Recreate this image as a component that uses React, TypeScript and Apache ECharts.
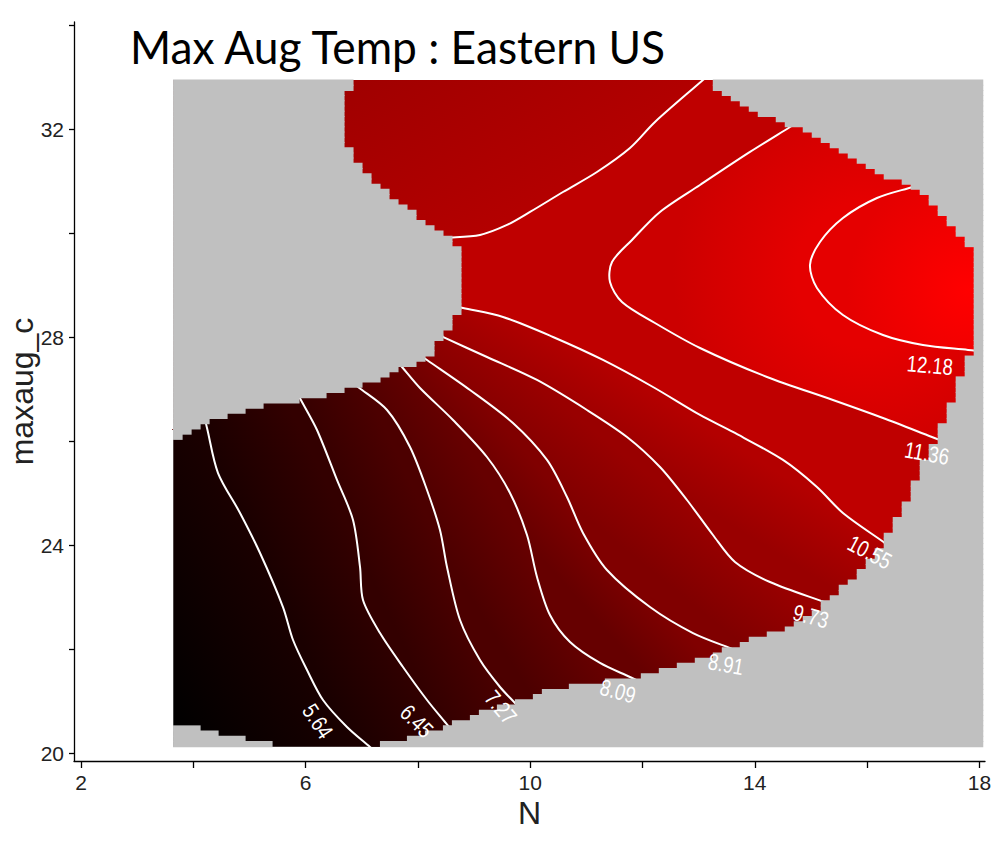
import React, { useEffect, useRef } from "react";
import * as echarts from "echarts";

type Pt = [number, number];

// ---------- texts ----------
const TITLE = "Max Aug Temp : Eastern US";
const X_NAME = "N";
const Y_NAME = "maxaug_c";

// ---------- axes ----------
const X_RANGE: Pt = [1.875, 18.1];
const Y_RANGE: Pt = [19.852, 34.063];
const X_TICK_LABELS = [2, 6, 10, 14, 18];
const X_TICKS = [2, 4, 6, 8, 10, 12, 14, 16, 18];
const Y_TICK_LABELS = [20, 24, 28, 32];
const Y_TICKS = [20, 22, 24, 26, 28, 30, 32, 34];

// ---------- prediction grid (grey) extent: xMin, xMax, yMin, yMax ----------
const GRID_EXTENT = [3.644, 18.064, 20.127, 32.948];

// ---------- colour ramp (black -> red) ----------
const VALUE_MIN = 4.82;
const VALUE_MAX = 13.0;
const MAX_POINT: Pt = [17.797, 28.91];
const LOBE_FAR_VALUE = 9.95;
const NECK_BAND_VALUE = 10.96;

// ---------- contour levels ----------
const LEVELS = [5.64, 6.45, 7.27, 8.09, 8.91, 9.73, 10.55, 11.36, 12.18];

// ---------- boundary of the coloured (predicted) region ----------
const EDGE_OUTER: Pt[] = [
  [3.62, 20.602], [3.977, 20.506], [4.315, 20.41], [4.832, 20.294], [5.633, 20.14],
  [7.182, 20.14], [7.859, 20.294], [8.5, 20.487], [9.124, 20.794], [9.765, 20.967],
  [10.174, 21.16], [10.655, 21.256], [11.243, 21.371], [11.831, 21.448], [12.49, 21.64],
  [13.024, 21.794], [13.968, 22.179], [14.68, 22.467], [15.286, 22.91], [15.873, 23.467],
  [16.354, 24.16], [16.586, 24.621], [16.817, 25.064], [16.995, 25.583], [17.298, 26.217],
  [17.476, 26.66], [17.654, 27.179], [17.832, 27.698], [17.975, 28.371], [17.975, 29.64],
  [17.779, 29.833], [17.476, 30.218], [17.173, 30.602], [16.817, 30.929], [16.283, 31.121],
  [15.82, 31.371], [15.214, 31.756], [14.627, 32.083], [13.611, 32.525], [13.077, 33.0],
];
const EDGE_LOBE: Pt[] = [
  [6.826, 33.0], [6.666, 32.41], [6.666, 31.987], [6.826, 31.506], [7.022, 31.179],
  [7.325, 30.871], [7.681, 30.602], [8.037, 30.294], [8.447, 29.968], [8.803, 29.679],
];
const EDGE_LOWER_TOP: Pt[] = [
  [8.803, 28.564], [8.625, 28.333], [8.482, 28.083], [8.304, 27.794], [8.162, 27.602],
  [8.037, 27.525], [7.556, 27.333], [6.969, 27.044], [5.9, 26.794], [5.491, 26.737],
  [4.956, 26.602], [4.297, 26.371], [3.817, 26.083], [3.62, 25.987],
];

// ---------- contour lines ----------
const LINE_564: Pt[] = [
  [4.244, 26.256], [4.44, 25.39], [4.832, 24.621], [5.188, 23.852], [5.597, 22.813],
  [5.776, 22.179], [6.025, 21.602], [6.31, 21.025], [6.737, 20.506], [7.147, 20.121],
];
const LINE_645: Pt[] = [
  [5.936, 26.756], [6.203, 26.217], [6.559, 25.256], [6.844, 24.487], [6.969, 23.583],
  [7.022, 22.948], [7.325, 22.313], [7.734, 21.66], [8.162, 21.025], [8.482, 20.602],
];
const LINE_727: Pt[] = [
  [6.933, 27.044], [7.45, 26.602], [7.859, 25.89], [8.162, 25.064], [8.393, 24.294],
  [8.518, 23.583], [8.75, 22.564], [9.106, 21.794], [9.462, 21.275], [9.729, 20.967],
];
const LINE_809: Pt[] = [
  [7.717, 27.429], [8.037, 27.025], [8.625, 26.41], [9.23, 25.698], [9.64, 25.006],
  [9.943, 24.198], [10.121, 23.391], [10.352, 22.66], [10.709, 22.141], [11.243, 21.737],
  [11.777, 21.467],
];
const LINE_891: Pt[] = [
  [8.162, 27.564], [8.928, 26.987], [9.693, 26.352], [10.299, 25.641], [10.655, 24.929],
  [10.94, 24.237], [11.367, 23.525], [12.133, 22.813], [12.899, 22.313], [13.647, 21.987],
];
const LINE_973: Pt[] = [
  [8.482, 27.987], [9.23, 27.621], [10.121, 27.179], [11.011, 26.602], [11.724, 26.083],
  [12.311, 25.506], [12.792, 24.871], [13.255, 24.198], [13.647, 23.679], [14.27, 23.294],
  [15.286, 22.89],
];
const LINE_1055: Pt[] = [
  [8.803, 28.564], [9.515, 28.391], [10.406, 28.006], [11.296, 27.564], [12.187, 27.044],
  [13.024, 26.506], [13.611, 26.179], [14.502, 25.641], [15.107, 25.121], [15.57, 24.621],
  [16.318, 24.044],
];
const LINE_1055_UPPER: Pt[] = [
  [8.482, 29.91], [9.106, 29.968], [9.587, 30.16], [9.996, 30.41], [10.584, 30.794],
  [11.189, 31.179], [11.777, 31.641], [12.222, 32.141], [13.077, 32.948],
];
const LINE_1136: Pt[] = [
  [14.627, 32.044], [13.914, 31.564], [13.024, 30.929], [12.311, 30.41], [11.813, 29.871],
  [11.457, 29.448], [11.421, 29.064], [11.635, 28.679], [12.222, 28.275], [13.024, 27.794],
  [14.217, 27.237], [15.392, 26.794], [16.283, 26.448], [17.155, 26.083],
];
const LINE_1218: Pt[] = [
  [16.817, 30.891], [16.176, 30.679], [15.57, 30.294], [15.161, 29.833], [14.983, 29.391],
  [15.107, 28.948], [15.57, 28.429], [16.283, 28.044], [16.995, 27.852], [17.797, 27.756],
];

// ---------- contour labels ----------
const LABEL_POS: Pt[] = [
  [6.221, 20.621], [7.984, 20.621], [9.48, 20.89], [11.563, 21.198], [13.487, 21.717],
  [15.001, 22.64], [16.051, 23.871], [17.066, 25.775], [17.12, 27.467],
];
const LABEL_ANGLE = [57, 45, 50, 15, 10, 15, 28, 10, 5];

// ---------- styling ----------
const GREY = "#c0c0c0";
const SANS = "'Liberation Sans', Arial, sans-serif";
const TITLE_SIZE = 46;
const TITLE_WIDTH = 538;
const CELL_COLS = 90;
const CELL_ROWS = 128;

const colorOf = (v: number) => {
  const t = Math.max(0, Math.min(1, (v - VALUE_MIN) / (VALUE_MAX - VALUE_MIN)));
  return `rgb(${Math.round(t * 255)},0,0)`;
};
const sub = (a: Pt, b: Pt): Pt => [a[0] - b[0], a[1] - b[1]];
const unit = (v: Pt): Pt => {
  const l = Math.hypot(v[0], v[1]) || 1;
  return [v[0] / l, v[1] / l];
};
const dot = (a: Pt, b: Pt) => a[0] * b[0] + a[1] * b[1];
const extendEnds = (pts: Pt[], len: number): Pt[] => {
  const n = pts.length;
  const d0 = unit(sub(pts[0], pts[1]));
  const d1 = unit(sub(pts[n - 1], pts[n - 2]));
  return [
    [pts[0][0] + d0[0] * len, pts[0][1] + d0[1] * len],
    ...pts,
    [pts[n - 1][0] + d1[0] * len, pts[n - 1][1] + d1[1] * len],
  ];
};
const normalOf = (pts: Pt[]): Pt => {
  const d = sub(pts[pts.length - 1], pts[0]);
  return unit([d[1], -d[0]]);
};
const meanProj = (pts: Pt[], n: Pt) => pts.reduce((s, p) => s + dot(p, n), 0) / pts.length;
const centroid = (pts: Pt[]): Pt => [
  pts.reduce((s, p) => s + p[0], 0) / pts.length,
  pts.reduce((s, p) => s + p[1], 0) / pts.length,
];
const meanDist = (pts: Pt[], c: Pt) => pts.reduce((s, p) => s + Math.hypot(p[0] - c[0], p[1] - c[1]), 0) / pts.length;
const linear = (n: Pt, a: number, b: number, c1: string, c2: string) => ({
  type: "linear", x: n[0] * a, y: n[1] * a, x2: n[0] * b, y2: n[1] * b, global: true,
  colorStops: [{ offset: 0, color: c1 }, { offset: 1, color: c2 }],
});

const renderItem = (_params: any, api: any) => {
  const px = (p: Pt): Pt => api.coord(p) as Pt;
  const [gx0, gx1, gy0, gy1] = GRID_EXTENT;
  const gTL = px([gx0, gy1]);
  const gBR = px([gx1, gy0]);
  const gTR: Pt = [gBR[0], gTL[1]];
  const clampPt = (p: Pt): Pt => [
    Math.min(gBR[0], Math.max(gTL[0], p[0])),
    Math.min(gBR[1], Math.max(gTL[1], p[1])),
  ];
  const children: any[] = [];

  children.push({
    type: "rect",
    shape: { x: gTL[0], y: gTL[1], width: gBR[0] - gTL[0], height: gBR[1] - gTL[1] },
    style: { fill: GREY },
  });

  const lower = [LINE_564, LINE_645, LINE_727, LINE_809, LINE_891, LINE_973, LINE_1055].map((l) => l.map(px));
  const lowerTop = EDGE_LOWER_TOP.map(px);
  const bottomLeft = px(EDGE_OUTER[0]);

  // below the first level
  {
    const n = normalOf(lower[0]);
    children.push({
      type: "rect",
      shape: { x: gTL[0], y: gTL[1], width: gBR[0] - gTL[0], height: gBR[1] - gTL[1] },
      style: { fill: linear(n, dot(bottomLeft, n), meanProj(lower[0], n), colorOf(VALUE_MIN), colorOf(LEVELS[0])) },
    });
  }
  // super-level regions of the lower contours
  for (let i = 0; i < 6; i++) {
    const line = extendEnds(lower[i], 8).map(clampPt);
    const start = line[0];
    const end = line[line.length - 1];
    const raised: Pt[] = lowerTop
      .filter((p) => p[0] < start[0] - 1)
      .reverse()
      .map((p) => [p[0], p[1] - 12] as Pt);
    const firstRaised = raised.length ? raised[0][1] : start[1] - 12;
    const pts: Pt[] = [...line, [end[0], gBR[1]], gBR, gTR, gTL, [gTL[0], firstRaised], ...raised];
    const n = unit([
      normalOf(lower[i])[0] + normalOf(lower[i + 1])[0],
      normalOf(lower[i])[1] + normalOf(lower[i + 1])[1],
    ]);
    children.push({
      type: "polygon",
      shape: { points: pts },
      style: { fill: linear(n, meanProj(lower[i], n), meanProj(lower[i + 1], n), colorOf(LEVELS[i]), colorOf(LEVELS[i + 1])) },
    });
  }

  const upperA = LINE_1055_UPPER.map(px);
  const lineB = LINE_1136.map(px);
  const lineC = LINE_1218.map(px);
  const lineD = lower[6];

  // top-left lobe (below 10.55)
  {
    const a = extendEnds(upperA, 8).map(clampPt);
    const n = normalOf(upperA);
    const lobe = EDGE_LOBE.map(px);
    const far = Math.max(...lobe.map((p) => dot(p, n)));
    const leftLow: Pt = [gTL[0], lowerTop[lowerTop.length - 1][1] - 60];
    children.push({
      type: "polygon",
      shape: { points: [...a, gTL, leftLow] },
      style: { fill: linear(n, meanProj(upperA, n), far, colorOf(LEVELS[6]), colorOf(LOBE_FAR_VALUE)) },
    });
  }
  // neck band 10.55 .. 11.36
  {
    const d = extendEnds(lineD, 8).map(clampPt);
    const a = upperA.slice().reverse();
    children.push({
      type: "polygon",
      shape: { points: [...d, gBR, gTR, ...a] },
      style: { fill: colorOf(NECK_BAND_VALUE) },
    });
  }
  // band 11.36 .. 12.18
  {
    const b = extendEnds(lineB, 8).map(clampPt);
    const c = centroid(lineC);
    const rC = meanDist(lineC, c);
    const rB = meanDist(lineB, c);
    children.push({
      type: "polygon",
      shape: { points: [...b, gBR, gTR, [b[0][0], gTR[1]]] },
      style: {
        fill: {
          type: "radial", x: c[0], y: c[1], r: rB, global: true,
          colorStops: [
            { offset: 0, color: colorOf(LEVELS[8]) },
            { offset: Math.min(0.95, rC / rB), color: colorOf(LEVELS[8]) },
            { offset: 1, color: colorOf(LEVELS[7]) },
          ],
        },
      },
    });
  }
  // core above 12.18
  {
    const cc = extendEnds(lineC, 8).map(clampPt);
    const m = px(MAX_POINT);
    const r = meanDist(lineC, m);
    children.push({
      type: "polygon",
      shape: { points: [...cc, gBR, gTR, [cc[0][0], gTR[1]]] },
      style: {
        fill: {
          type: "radial", x: m[0], y: m[1], r, global: true,
          colorStops: [
            { offset: 0, color: colorOf(VALUE_MAX) },
            { offset: 1, color: colorOf(LEVELS[8]) },
          ],
        },
      },
    });
  }

  // white contour lines
  [...lower, upperA, lineB, lineC].forEach((l) => {
    children.push({
      type: "polyline",
      shape: { points: extendEnds(l, 8), smooth: 0.3 },
      style: { stroke: "#ffffff", lineWidth: 2, fill: null },
    });
  });

  // grey mask outside the predicted cells (raster staircase)
  const poly: Pt[] = [...EDGE_OUTER, ...EDGE_LOBE, ...EDGE_LOWER_TOP];
  const dx = (gx1 - gx0) / CELL_COLS;
  const dy = (gy1 - gy0) / CELL_ROWS;
  for (let j = 0; j < CELL_ROWS; j++) {
    const yc = gy0 + (j + 0.5) * dy;
    const xs: number[] = [];
    for (let i = 0; i < poly.length; i++) {
      const p = poly[i];
      const q = poly[(i + 1) % poly.length];
      if ((p[1] <= yc) !== (q[1] <= yc)) {
        xs.push(p[0] + ((yc - p[1]) * (q[0] - p[0])) / (q[1] - p[1]));
      }
    }
    xs.sort((a, b) => a - b);
    const snapped = xs.map((x) => gx0 + Math.min(CELL_COLS, Math.max(0, Math.round((x - gx0) / dx))) * dx);
    const spans: Pt[] = [];
    let s = gx0;
    for (let k = 0; k + 1 < snapped.length; k += 2) {
      if (snapped[k] > s + 1e-9) spans.push([s, snapped[k]]);
      s = snapped[k + 1];
    }
    if (s < gx1 - 1e-9) spans.push([s, gx1]);
    const top = px([gx0, gy0 + (j + 1) * dy])[1];
    const bot = px([gx0, gy0 + j * dy])[1];
    spans.forEach(([xa, xb]) => {
      const ax = px([xa, yc])[0];
      const bx = px([xb, yc])[0];
      children.push({
        type: "rect",
        shape: { x: ax - 0.3, y: top - 0.5, width: bx - ax + 0.6, height: bot - top + 1 },
        style: { fill: GREY },
      });
    });
  }

  // contour labels
  LEVELS.forEach((lv, i) => {
    const p = px(LABEL_POS[i]);
    children.push({
      type: "text",
      x: p[0],
      y: p[1],
      rotation: (-LABEL_ANGLE[i] * Math.PI) / 180,
      scaleX: 0.8,
      style: {
        text: lv.toFixed(2),
        fill: "#ffffff",
        fontSize: 23,
        fontFamily: SANS,
        align: "center",
        verticalAlign: "middle",
      },
    });
  });

  return { type: "group", children };
};

export default function App() {
  const ref = useRef<HTMLDivElement>(null);
  useEffect(() => {
    if (!ref.current) return;
    const chart = echarts.init(ref.current, undefined, { renderer: "svg" });
    let titleScale = 1;
    try {
      const ctx = document.createElement("canvas").getContext("2d");
      if (ctx) {
        ctx.font = `${TITLE_SIZE}px Lato`;
        const w = ctx.measureText(TITLE).width;
        if (w > 0) titleScale = TITLE_WIDTH / w;
      }
    } catch (e) {
      titleScale = 1;
    }
    chart.setOption({
      animation: false,
      backgroundColor: "#ffffff",
      grid: { left: 74, right: 9, top: 22, bottom: 84, containLabel: false, outerBoundsMode: "none" },
      xAxis: {
        type: "value",
        min: X_RANGE[0],
        max: X_RANGE[1],
        name: X_NAME,
        nameLocation: "middle",
        nameGap: 36,
        nameMoveOverlap: false,
        nameTextStyle: { fontSize: 32, fontFamily: SANS, color: "#222" },
        axisLine: { show: true, onZero: false, lineStyle: { color: "#000", width: 1.3 } },
        axisTick: { show: true, customValues: X_TICKS, length: 7, lineStyle: { color: "#000", width: 1.3 } },
        axisLabel: { customValues: X_TICK_LABELS, fontSize: 21, fontFamily: SANS, color: "#222", margin: 11 },
        splitLine: { show: false },
      },
      yAxis: {
        type: "value",
        min: Y_RANGE[0],
        max: Y_RANGE[1],
        name: Y_NAME,
        nameLocation: "middle",
        nameGap: 36,
        nameMoveOverlap: false,
        nameTextStyle: { fontSize: 32, fontFamily: SANS, color: "#222" },
        axisLine: { show: true, onZero: false, lineStyle: { color: "#000", width: 1.3 } },
        axisTick: { show: true, customValues: Y_TICKS, length: 5, lineStyle: { color: "#000", width: 1.3 } },
        axisLabel: { customValues: Y_TICK_LABELS, fontSize: 21, fontFamily: SANS, color: "#222", margin: 10 },
        splitLine: { show: false },
      },
      graphic: [
        {
          type: "text",
          x: 130,
          y: 46,
          scaleX: titleScale,
          silent: true,
          style: { text: TITLE, fontSize: TITLE_SIZE, fontFamily: "Lato", fill: "#000", verticalAlign: "middle" },
        },
      ],
      series: [
        {
          type: "custom",
          coordinateSystem: "cartesian2d",
          silent: true,
          clip: false,
          data: [[X_RANGE[0], Y_RANGE[0]]],
          renderItem,
        },
      ],
    });
    return () => chart.dispose();
  }, []);
  return (
    <div
      ref={ref}
      style={{ position: "fixed", left: 0, top: 0, width: 994, height: 845, background: "#fff" }}
    />
  );
}
